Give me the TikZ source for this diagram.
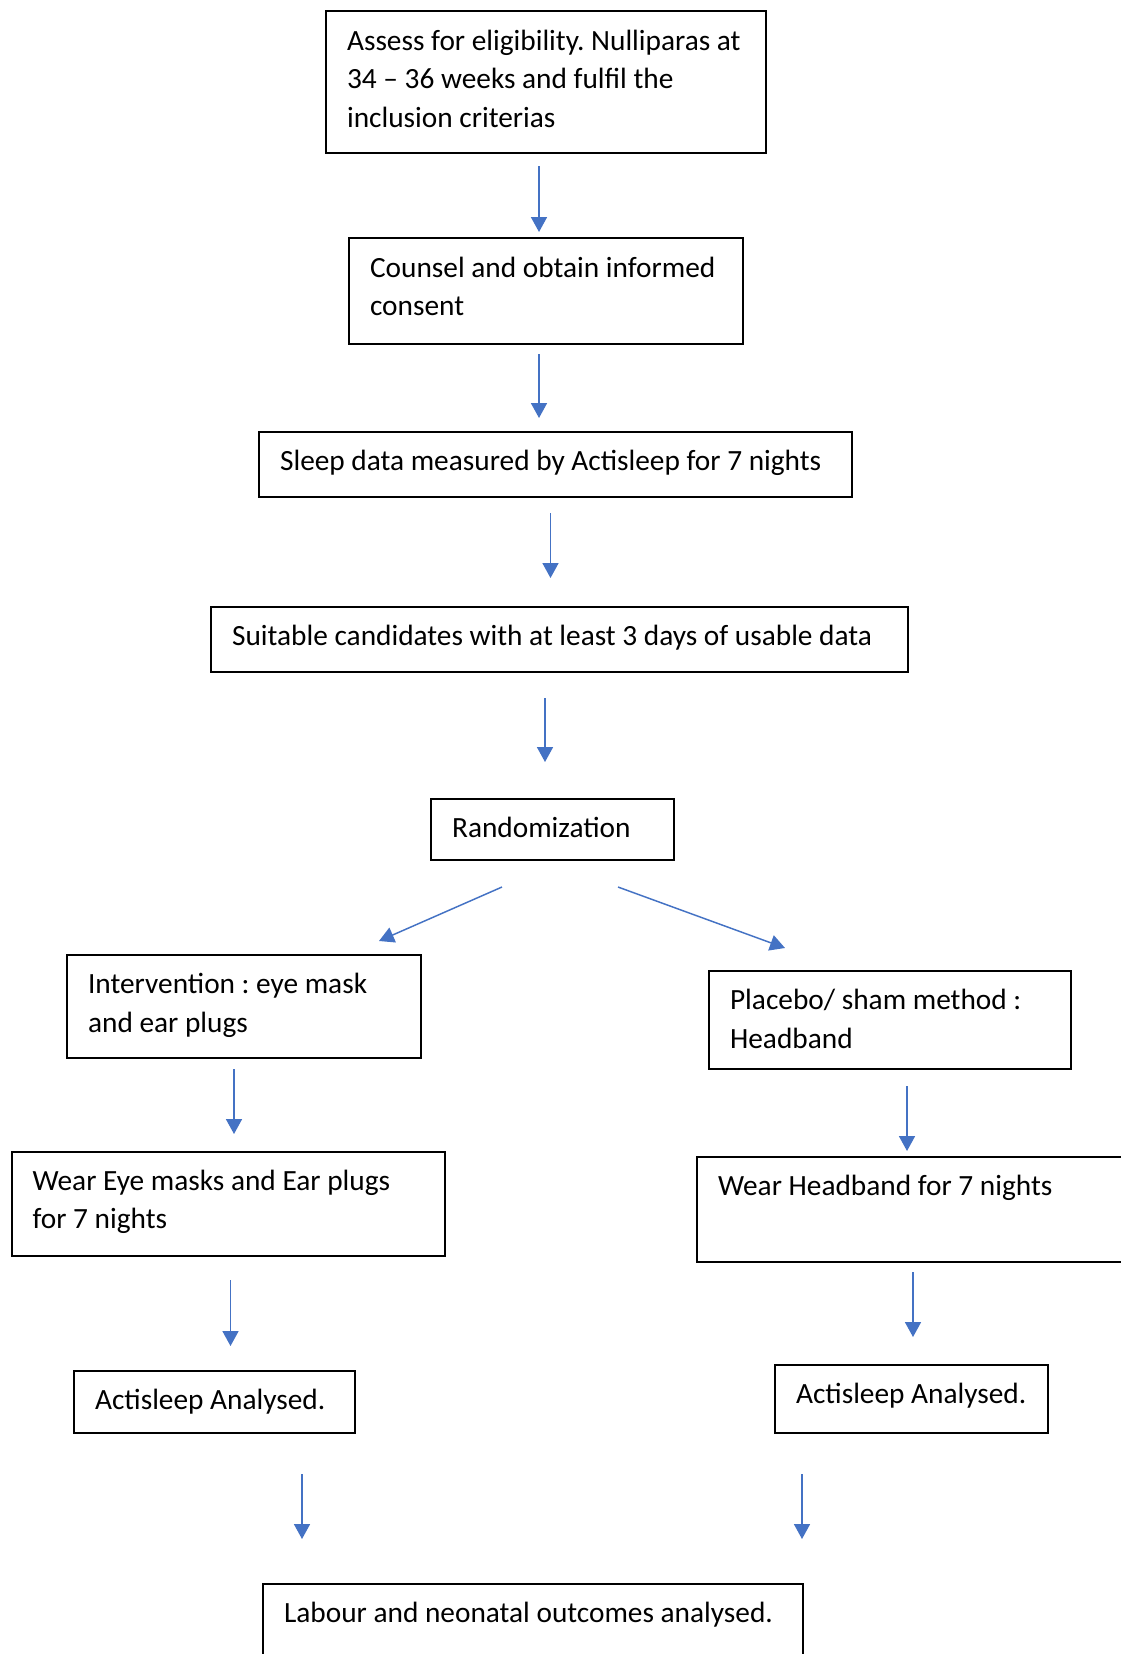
\documentclass[tikz,border=0pt]{standalone}
\usepackage{fontspec}
\setmainfont{Carlito}
\usetikzlibrary{arrows.meta}
\definecolor{arrowblue}{HTML}{4472C4}
\begin{document}
\begin{tikzpicture}[x=0.375pt,y=-0.375pt,
  box/.style={draw=black, line width=0.75pt, anchor=north west, align=flush left,
    inner xsep=0pt, inner ysep=0pt, text height=14.44pt,
    font=\fontsize{11pt}{14.5pt}\selectfont,
    execute at begin node={\frenchspacing\spaceskip=0pt\xspaceskip=0pt\leftskip=7.9pt}},
  arr/.style={draw=arrowblue, line width=0.55pt,
    -{Triangle[length=5.6pt,width=6pt]}}]
\useasboundingbox (0,0) rectangle (1120,1654);
\fill[white] (0,0) rectangle (1120,1654);

\node[box, text width=165pt, text depth=38.63pt] (b1) at (325,10.5)
  {Assess for eligibility. Nulliparas at\\34 – 36 weeks and fulfil the\\inclusion criterias};
\node[box, text width=147.56pt, text depth=25.13pt] (b2) at (348,237.5)
  {Counsel and obtain informed\\consent};
\node[box, text width=222.38pt, text depth=9.94pt] (b3) at (258,431)
  {Sleep data measured by Actisleep for 7 nights};
\node[box, text width=261.38pt, text depth=9.94pt] (b4) at (210,606)
  {Suitable candidates with at least 3 days of usable data};
\node[box, text width=91.13pt, text depth=8.44pt] (b5) at (430,798)
  {Randomization};
\node[box, text width=132.75pt, text depth=24.19pt] (b6) at (66,954)
  {Intervention : eye mask\\and ear plugs};
\node[box, text width=135.75pt, text depth=22.31pt] (b7) at (708,970)
  {Placebo/ sham method :\\Headband};
\node[box, text width=162.56pt, text depth=24.75pt] (b8) at (10.5,1150.5)
  {Wear Eye masks and Ear plugs\\for 7 nights};
\node[box, text width=164.63pt, text depth=24.94pt] (b9) at (696,1156)
  {Wear Headband for 7 nights};
\node[box, text width=105.38pt, text depth=8.81pt] (b10) at (73,1370)
  {Actisleep Analysed.};
\node[box, text width=102.38pt, text depth=11.06pt] (b11) at (774,1364)
  {Actisleep Analysed.};
\node[box, text width=202.5pt, text depth=26.81pt] (b12) at (262,1583)
  {Labour and neonatal outcomes analysed.};

\draw[arr] ([shift={(214,12)}]b1.south west) -- ([shift={(191,-5.5)}]b2.north west);
\draw[arr] ([shift={(191,9)}]b2.south west) -- ([shift={(281,-13)}]b3.north west);
\draw[arr] ([shift={(292.5,15)}]b3.south west) -- ([shift={(340.5,-28)}]b4.north west);
\draw[arr] ([shift={(335,25)}]b4.south west) -- ([shift={(115,-36)}]b5.north west);
\draw[arr] ([shift={(72,26)}]b5.south west) -- ([shift={(313,-13)}]b6.north west);
\draw[arr] ([shift={(188,26)}]b5.south west) -- ([shift={(77,-22)}]b7.north west);
\draw[arr] ([shift={(168,10)}]b6.south west) -- ([shift={(223.5,-16.5)}]b8.north west);
\draw[arr] ([shift={(199,16)}]b7.south west) -- ([shift={(211,-5)}]b9.north west);
\draw[arr] ([shift={(220,23)}]b8.south west) -- ([shift={(157.5,-24)}]b10.north west);
\draw[arr] ([shift={(217,9)}]b9.south west) -- ([shift={(139,-27)}]b11.north west);
\draw[arr] ([shift={(229,40)}]b10.south west) -- ([shift={(40,-44)}]b12.north west);
\draw[arr] ([shift={(28,40)}]b11.south west) -- ([shift={(540,-44)}]b12.north west);
\end{tikzpicture}
\end{document}
